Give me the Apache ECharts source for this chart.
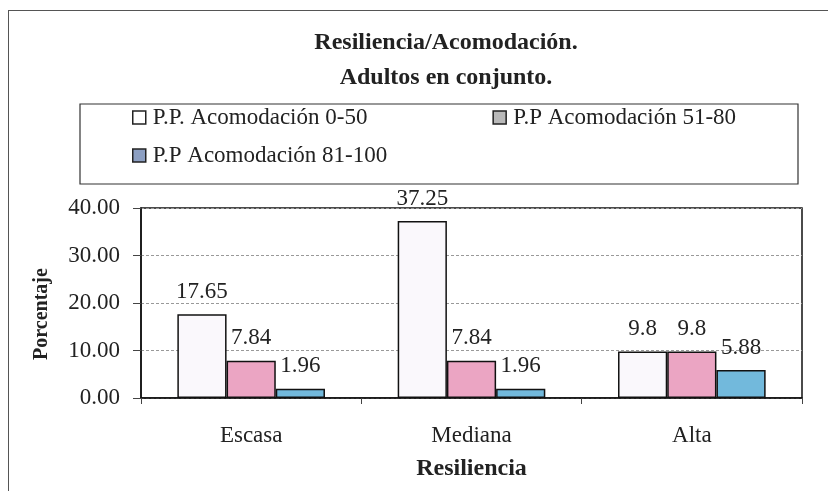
<!DOCTYPE html>
<html>
<head>
<meta charset="utf-8">
<title>Resiliencia/Acomodación</title>
<script src="https://cdn.jsdelivr.net/npm/echarts@6/dist/echarts.min.js"></script>
<style>
    html, body { margin: 0; padding: 0; background: #fff; overflow: hidden; }
    #frame { position: absolute; left: 8px; top: 10px; width: 840px; height: 500px; border: 1.5px solid #555; }
    #chart { position: absolute; left: 0; top: 0; width: 828px; height: 491px; }
</style>
</head>
<body>
<div id="frame"></div>
<div id="chart"></div>
<script>
    // categorias del eje x
    const categorias = ['Escasa', 'Mediana', 'Alta'];
    // series (porcentaje)
    const acomodacion0_50 = [17.65, 37.25, 9.8];
    const acomodacion51_80 = [7.84, 7.84, 9.8];
    const acomodacion81_100 = [1.96, 1.96, 5.88];
    const nombresSeries = ['P.P. Acomodación 0-50', 'P.P Acomodación 51-80', 'P.P Acomodación 81-100'];

    const fuente = 'Liberation Serif';
    const colores = ['#faf8fc', '#eba5c3', '#72b9dc'];
    const coloresLeyenda = ['#ffffff', '#b9b9b9', '#8c9fc2'];

    let chart = echarts.init(document.getElementById('chart'));

    function serie(i, datos) {
        return {
            name: nombresSeries[i],
            type: 'bar',
            data: datos,
            barGap: '0%',
            barCategoryGap: '33%',
            itemStyle: {
                color: colores[i],
                borderColor: '#111',
                borderWidth: 1.5
            },
            label: {
                show: true,
                position: 'top',
                distance: 11,
                color: '#222',
                fontFamily: fuente,
                fontSize: 23
            }
        }
    }

    function itemLeyenda(i) {
        return {
            name: nombresSeries[i],
            itemStyle: {color: coloresLeyenda[i], borderColor: '#222', borderWidth: 1.5}
        }
    }

    let leyendaBase = {
        orient: 'horizontal',
        icon: 'rect',
        itemWidth: 13,
        itemHeight: 13,
        itemGap: 125,
        left: 132,
        padding: 0,
        selectedMode: false,
        textStyle: {fontFamily: fuente, fontSize: 23, color: '#222', padding: [0, 0, 0, 2]}
    };

    let option = {
        backgroundColor: 'transparent',
        animation: false,
        title: {
            text: 'Resiliencia/Acomodación.\nAdultos en conjunto.',
            left: 441,
            top: 20,
            textAlign: 'center',
            textStyle: {
                fontFamily: fuente,
                fontWeight: 'bold',
                fontSize: 24,
                lineHeight: 35,
                color: '#222'
            }
        },
        legend: [
            Object.assign({}, leyendaBase, {top: 106, data: [itemLeyenda(0), itemLeyenda(1)]}),
            Object.assign({}, leyendaBase, {top: 144, data: [itemLeyenda(2)]})
        ],
        graphic: [{
            type: 'rect',
            shape: {x: 80, y: 104, width: 718, height: 80},
            style: {fill: 'none', stroke: '#333', lineWidth: 1.2},
            silent: true
        }],
        grid: {
            left: 141,
            top: 208,
            width: 661,
            height: 190,
            show: true,
            borderColor: '#111',
            borderWidth: 1.5
        },
        xAxis: {
            type: 'category',
            data: categorias,
            name: 'Resiliencia',
            nameLocation: 'middle',
            nameGap: 59,
            nameTextStyle: {fontFamily: fuente, fontWeight: 'bold', fontSize: 24, color: '#222'},
            axisLine: {lineStyle: {color: '#111', width: 1.5}},
            axisTick: {show: true, length: 6, lineStyle: {color: '#444'}},
            axisLabel: {margin: 26, fontFamily: fuente, fontSize: 23, color: '#222'}
        },
        yAxis: {
            type: 'value',
            min: 0,
            max: 40,
            interval: 10,
            name: 'Porcentaje',
            nameLocation: 'middle',
            nameGap: 89,
            nameTextStyle: {fontFamily: fuente, fontWeight: 'bold', fontSize: 20, color: '#222', padding: [0, 22, 0, 0]},
            axisLine: {show: true, lineStyle: {color: '#111', width: 1.5}},
            axisTick: {show: true, length: 8, lineStyle: {color: '#444'}},
            axisLabel: {
                margin: 21,
                fontFamily: fuente,
                fontSize: 23,
                color: '#222',
                formatter: function (v) { return v.toFixed(2) }
            },
            splitLine: {lineStyle: {color: '#999', width: 1, type: [3, 2]}}
        },
        series: [
            serie(0, acomodacion0_50),
            serie(1, acomodacion51_80),
            serie(2, acomodacion81_100)
        ]
    };

    chart.setOption(option, true);
</script>
</body>
</html>
